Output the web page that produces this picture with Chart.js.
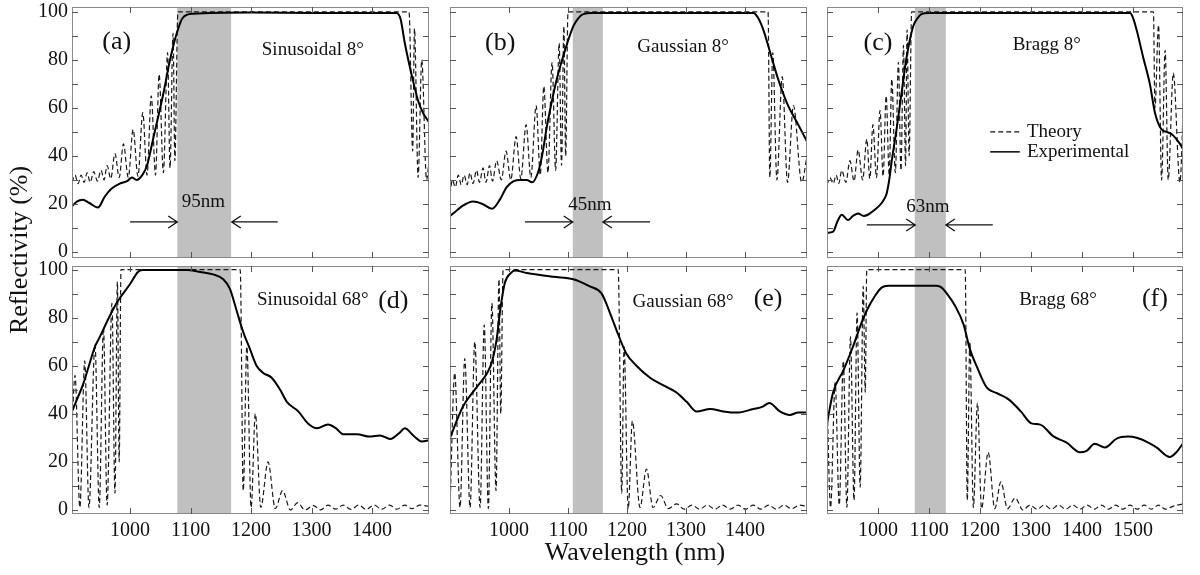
<!DOCTYPE html>
<html>
<head>
<meta charset="utf-8">
<script src="https://cdn.jsdelivr.net/npm/chart.js@4.4.1/dist/chart.umd.min.js"></script>
<style>
html,body{margin:0;padding:0;background:#ffffff;overflow:hidden;}
#wrap{position:relative;width:1200px;height:575px;overflow:hidden;background:#fff;}
#wrap canvas{position:absolute;left:-50px;top:-50px;}
</style>
</head>
<body>
<div id="wrap"></div>
<script>
// ---------- tick labels ----------
const xTicksCol12 = [1000, 1100, 1200, 1300, 1400];
const xTicksCol3 = [1000, 1100, 1200, 1300, 1400, 1500];
const yTickLabels = [0, 20, 40, 60, 80, 100];
const yTickMarks = [0, 10, 20, 30, 40, 50, 60, 70, 80, 90, 100];

// ---------- shaded bands (nm) ----------
const bandSinusoidal = [1078, 1167];
const bandGaussian = [1108, 1159];
const bandBragg = [1072, 1133];

// ---------- (a) Sinusoidal 8° ----------
const theoryA = [[904,29],[909,32],[914,28.5],[919,32],[924,29],[929,33],[934,29],[940,33.5],[946,29.5],[952,34],[957,30],[962,36],[968,30.5],[975,41],[982,31],[989,45],[997,31],[1005,51],[1013,31.5],[1021,58],[1028,32],[1035,65],[1042,32],[1048,74],[1055,33],[1062,83],[1066,35],[1071,91],[1074,38],[1079,100],[1461,100],[1467,42],[1470,93],[1476,31],[1482,80],[1490,30],[1494,38]];
const expA = [[904,19],[912,21],[922,21.7],[932,20.5],[947,18.5],[958,23],[970,26.5],[983,28.5],[995,29.5],[1003,31],[1011,30],[1020,32],[1028,36],[1038,47],[1055,66],[1066,80],[1077,91],[1087,97.5],[1104,99.2],[1200,99.7],[1300,99.5],[1440,99.5],[1447,97],[1454,87],[1466,73],[1476,63],[1484,58],[1494,54]];

// ---------- (b) Gaussian 8° ----------
const theoryB = [[900,24],[904,30],[909,27],[914,32],[919,28],[924,32],[929,28],[934,33],[939,28.5],[945,34],[950,29],[956,35],[961,29],[967,36],[972,29.5],[979,38],[987,30],[995,42],[1003,30],[1012,48],[1020,30.5],[1029,53],[1037,31],[1046,61],[1053,32],[1059,69],[1066,33],[1073,79],[1079,34],[1085,87],[1089,36],[1093,94],[1096,40],[1100,100],[1439,100],[1442,31],[1447,83],[1454,30],[1463,73],[1472,29],[1482,61],[1496,29],[1505,40]];
const expB = [[900,15],[910,17],[920,19],[939,21],[955,20],[971,18],[985,22],[996,27],[1008,29.5],[1019,30],[1030,30],[1039,29],[1049,33],[1056,40],[1064,52],[1072,62],[1081,72],[1095,84],[1109,94],[1118,97.5],[1126,99],[1140,99.5],[1414,99.5],[1422,97.5],[1431,92.5],[1445,81],[1456,72],[1471,62],[1488,54],[1505,46]];

// ---------- (c) Bragg 8° ----------
const theoryC = [[900,28],[906,31],[912,28.5],[918,32],[923,28.5],[929,34],[937,29],[945,38],[953,29.5],[961,42.5],[970,30],[978,47],[984,30.5],[990,53],[997,31],[1004,59],[1010,31.5],[1016,65],[1022,32],[1027,72],[1034,33],[1040,79],[1045,34],[1050,86],[1054,36],[1057,92.5],[1061,40],[1066,100],[1540,100],[1543,60],[1550,94.5],[1556,30],[1563,84],[1569,30],[1579,74.5],[1592,29],[1599,63]];
const expC = [[900,8],[912,8.5],[921,13],[929,15.5],[941,13.3],[951,15],[961,16],[972,15],[980,15.5],[993,17.5],[1004,19.6],[1012,22],[1017,24.4],[1022,30],[1027,38],[1037,52],[1047,67.5],[1056,81],[1069,94],[1078,97.5],[1085,99],[1100,99.5],[1494,99.5],[1500,97.5],[1507,92.5],[1520,81],[1533,70],[1543,58],[1556,51],[1566,50],[1576,49],[1592,45],[1599,42.5]];

// ---------- (d) Sinusoidal 68° ----------
const theoryD = [[904,35],[909,56],[917,1],[925,62],[932,1],[942,69],[949,1],[956,76],[962,2],[970,86],[975,7],[979,95],[982,20],[985,100],[1182,100],[1187,8],[1193,68],[1200,1],[1207,40],[1216,1],[1228,20],[1240,0.5],[1252,8],[1265,0],[1277,3],[1289,0],[1303,1.8],[1315,0],[1327,2],[1340,0.3],[1352,2],[1365,0.2],[1378,2],[1390,0.2],[1403,2],[1416,0.3],[1429,2],[1441,0.3],[1454,2],[1466,0.5],[1479,2],[1494,1.5]];
const expD = [[904,41],[914,47],[922,52],[932,60],[942,68],[950,72],[967,81],[980,87],[1000,94],[1013,99],[1020,99.8],[1094,99.8],[1116,99],[1137,98],[1154,96],[1165,92],[1176,83],[1187,74],[1198,67],[1209,60],[1220,57],[1234,55],[1248,50],[1259,45],[1278,41],[1294,36],[1309,34],[1327,35.5],[1340,34],[1352,31.5],[1375,31.5],[1396,30.5],[1413,31],[1430,29.5],[1445,32],[1454,34],[1468,31],[1482,28.5],[1494,29]];

// ---------- (e) Gaussian 68° ----------
const theoryE = [[900,1],[908,57],[917,1],[925,63],[934,1],[942,70],[951,1],[958,77],[965,0.5],[971,86],[978,8],[983,96],[986,40],[990,100],[1185,100],[1191,7],[1195,68],[1202,0.5],[1209,37],[1222,1],[1233,17],[1244,1],[1257,6],[1270,0.5],[1284,2.5],[1297,0.3],[1310,2],[1323,0.3],[1336,2],[1349,0.3],[1362,2],[1375,0.3],[1388,2],[1401,0.3],[1414,2],[1427,0.3],[1440,2],[1453,0.3],[1466,2],[1479,0.5],[1492,2],[1505,1.5]];
const expE = [[900,30],[922,43],[945,51],[963,57],[971,61.5],[979,71],[985,83],[993,94.5],[1003,98.5],[1010,99.6],[1030,98.6],[1075,97],[1109,96],[1137,93],[1157,90],[1171,82],[1185,73],[1199,65],[1216,60],[1239,55],[1260,52],[1283,49],[1301,45],[1318,41],[1341,42],[1363,41],[1386,40.5],[1414,42],[1430,43],[1441,44.5],[1459,41],[1476,39.5],[1490,40.5],[1505,40.5]];

// ---------- (f) Bragg 68° ----------
const theoryF = [[900,47],[907,1],[916,53],[924,2],[932,62],[939,1],[946,72],[953,4],[959,82],[965,9.5],[971,93],[975,49],[978,100],[1171,100],[1175,4],[1180,70],[1187,1],[1195,44.5],[1203,0.5],[1216,24],[1229,0.5],[1241,11.7],[1254,0.5],[1269,5],[1284,0],[1298,2],[1312,0.3],[1326,2],[1340,0.3],[1354,2],[1368,0.3],[1382,2],[1396,0.3],[1410,2],[1424,0.3],[1438,2],[1452,0.3],[1466,2],[1480,0.3],[1494,2],[1508,0.3],[1522,2],[1536,0.3],[1550,2],[1564,0.3],[1578,1.5],[1599,2.5]];
const expF = [[900,36],[912,49],[932,58],[951,68],[968,78],[978,83],[994,89],[1007,92.5],[1020,93.3],[1115,93.3],[1125,92.5],[1135,90],[1151,85],[1168,77],[1180,67],[1193,60],[1213,51],[1233,48.6],[1256,46],[1280,41],[1301,36],[1318,35.5],[1344,30.6],[1370,28],[1396,24],[1409,24.6],[1425,27.5],[1445,26],[1468,29.7],[1490,30.5],[1507,30],[1530,28],[1546,26],[1572,22],[1585,24],[1599,28]];

// ---------- layout ----------
const OFF = 50;            // canvas offset (canvas drawn at -50,-50)
const CW = 1300, CH = 675; // canvas size
const YW = 60, XH = 40;    // fixed axis box sizes
const FONT = '"Liberation Serif", "Times New Roman", serif';
const INK = '#111111';
const FRAME = '#8a8a8a';
const BAND = '#c0c0c0';

const panels = [
  {id:'a', theory:theoryA, exp:expA, band:bandSinusoidal, xr:[904,1494], yr:[-2.5,102], rect:[72,7,429,258], xt:xTicksCol12, showX:false, showY:true,
   texts:[['(a)',978,87.5,26],['Sinusoidal 8°',1302,84,19],['95nm',1121,21,19]], arrows:[[1000,1078,12.5],[1244,1168,12.5]]},
  {id:'b', theory:theoryB, exp:expB, band:bandGaussian, xr:[900,1505], yr:[-2.5,102], rect:[450,7,807,258], xt:xTicksCol12, showX:false, showY:false,
   texts:[['(b)',985,87,26],['Gaussian 8°',1295,85.5,19],['45nm',1137,19.6,19]], arrows:[[1027,1108,12.5],[1239,1159,12.5]]},
  {id:'c', theory:theoryC, exp:expC, band:bandBragg, xr:[900,1598], yr:[-2.5,102], rect:[827,7,1183,258], xt:xTicksCol3, showX:false, showY:false,
   texts:[['(c)',1000,87,26],['Bragg 8°',1331,86,19],['63nm',1098,18.75,19]], arrows:[[978,1073,11.25],[1225,1133,11.25]], legend:true},
  {id:'d', theory:theoryD, exp:expD, band:bandSinusoidal, xr:[904,1494], yr:[-1.7,101.5], rect:[72,266,429,514], xt:xTicksCol12, showX:true, showY:true,
   texts:[['Sinusoidal 68°',1302,87.5,19],['(d)',1435,86.7,26]], arrows:[], yTitle:true},
  {id:'e', theory:theoryE, exp:expE, band:bandGaussian, xr:[900,1505], yr:[-1.7,101.5], rect:[450,266,807,514], xt:xTicksCol12, showX:true, showY:false,
   texts:[['Gaussian 68°',1295,86.7,19],['(e)',1439,87.5,26]], arrows:[], xTitle:true},
  {id:'f', theory:theoryF, exp:expF, band:bandBragg, xr:[900,1598], yr:[-1.7,101.5], rect:[827,266,1183,514], xt:xTicksCol3, showX:true, showY:false,
   texts:[['Bragg 68°',1353,87.5,19],['(f)',1543,87.5,26]], arrows:[]}
];

function panelPlugin(p) {
  return {
    id: 'panel_' + p.id,
    beforeDatasetsDraw(chart) {
      const {ctx, chartArea: a, scales: {x}} = chart;
      const x0 = x.getPixelForValue(p.band[0]);
      const x1 = x.getPixelForValue(p.band[1]);
      ctx.save();
      ctx.fillStyle = BAND;
      ctx.fillRect(x0, a.top, x1 - x0, a.bottom - a.top);
      ctx.restore();
    },
    afterDatasetsDraw(chart) {
      const {ctx, chartArea: a, scales: {x, y}} = chart;
      ctx.save();
      // frame
      ctx.strokeStyle = FRAME;
      ctx.lineWidth = 1;
      ctx.strokeRect(a.left + 0.5, a.top + 0.5, a.right - a.left - 1, a.bottom - a.top - 1);
      // inward tick marks
      ctx.strokeStyle = '#555';
      ctx.beginPath();
      yTickMarks.forEach(v => {
        const py = Math.round(y.getPixelForValue(v)) + 0.5;
        ctx.moveTo(a.left, py); ctx.lineTo(a.left + 6, py);
        ctx.moveTo(a.right, py); ctx.lineTo(a.right - 6, py);
      });
      p.xt.forEach(v => {
        const px = Math.round(x.getPixelForValue(v)) + 0.5;
        ctx.moveTo(px, a.bottom); ctx.lineTo(px, a.bottom - 6);
        ctx.moveTo(px, a.top); ctx.lineTo(px, a.top + 6);
      });
      ctx.stroke();
      // texts
      ctx.fillStyle = INK;
      ctx.textAlign = 'center';
      ctx.textBaseline = 'middle';
      p.texts.forEach(([t, tx, ty, sz]) => {
        ctx.font = sz + 'px ' + FONT;
        ctx.fillText(t, x.getPixelForValue(tx), y.getPixelForValue(ty));
      });
      // arrows
      ctx.strokeStyle = INK;
      ctx.lineWidth = 1.3;
      p.arrows.forEach(([from, to, ay]) => {
        const x1 = x.getPixelForValue(from), x2 = x.getPixelForValue(to), py = y.getPixelForValue(ay);
        const d = x2 > x1 ? 1 : -1;
        ctx.beginPath();
        ctx.moveTo(x1, py); ctx.lineTo(x2, py);
        ctx.moveTo(x2 - d * 9, py - 6); ctx.lineTo(x2, py); ctx.lineTo(x2 - d * 9, py + 6);
        ctx.stroke();
      });
      // legend
      if (p.legend) {
        const lx0 = x.getPixelForValue(1220), lx1 = x.getPixelForValue(1278), tx = x.getPixelForValue(1292);
        const ly1 = y.getPixelForValue(50), ly2 = y.getPixelForValue(41.7);
        ctx.lineWidth = 1.2;
        ctx.setLineDash([5, 3]);
        ctx.beginPath(); ctx.moveTo(lx0, ly1); ctx.lineTo(lx1, ly1); ctx.stroke();
        ctx.setLineDash([]);
        ctx.lineWidth = 1.6;
        ctx.beginPath(); ctx.moveTo(lx0, ly2); ctx.lineTo(lx1, ly2); ctx.stroke();
        ctx.textAlign = 'left';
        ctx.font = '19px ' + FONT;
        ctx.fillText('Theory', tx, ly1);
        ctx.fillText('Experimental', tx, ly2);
      }
      // shared axis titles
      if (p.yTitle) {
        ctx.save();
        ctx.translate(20 + OFF, 250 + OFF);
        ctx.rotate(-Math.PI / 2);
        ctx.textAlign = 'center';
        ctx.textBaseline = 'middle';
        ctx.font = '26px ' + FONT;
        ctx.fillText('Reflectivity (%)', 0, 0);
        ctx.restore();
      }
      if (p.xTitle) {
        ctx.textAlign = 'center';
        ctx.textBaseline = 'middle';
        ctx.font = '26px ' + FONT;
        ctx.fillText('Wavelength (nm)', 635 + OFF, 553 + OFF);
      }
      ctx.restore();
    }
  };
}

const wrap = document.getElementById('wrap');
panels.forEach(p => {
  const cv = document.createElement('canvas');
  cv.width = CW; cv.height = CH;
  cv.style.width = CW + 'px'; cv.style.height = CH + 'px';
  wrap.appendChild(cv);
  const [L, T, R, B] = p.rect;
  new Chart(cv.getContext('2d'), {
    type: 'line',
    data: {
      datasets: [
        {label: 'Theory', data: p.theory.map(([vx, vy]) => ({x: vx, y: vy})), borderColor: '#1a1a1a', borderWidth: 1.2,
         borderDash: [5, 3], pointRadius: 0, cubicInterpolationMode: 'monotone', fill: false, order: 1},
        {label: 'Experimental', data: p.exp.map(([vx, vy]) => ({x: vx, y: vy})), borderColor: '#000000', borderWidth: 2,
         pointRadius: 0, cubicInterpolationMode: 'monotone', fill: false, order: 0}
      ]
    },
    options: {
      responsive: false, animation: false, events: [], devicePixelRatio: 1,
      layout: {padding: {left: L + OFF - YW, top: T + OFF, right: CW - (R + OFF), bottom: CH - (B + OFF) - XH}},
      plugins: {legend: {display: false}, tooltip: {enabled: false}},
      scales: {
        x: {
          type: 'linear', min: p.xr[0], max: p.xr[1],
          grid: {display: false, drawTicks: false}, border: {display: false},
          afterBuildTicks: s => { s.ticks = p.xt.map(v => ({value: v})); },
          afterFit: s => { s.height = XH; },
          ticks: {display: p.showX, font: {family: FONT, size: 20}, color: INK, padding: 5, maxRotation: 0, autoSkip: false,
                  callback: v => String(v)}
        },
        y: {
          type: 'linear', min: p.yr[0], max: p.yr[1],
          grid: {display: false, drawTicks: false}, border: {display: false},
          afterBuildTicks: s => { s.ticks = yTickLabels.map(v => ({value: v})); },
          afterFit: s => { s.width = YW; },
          ticks: {display: p.showY, font: {family: FONT, size: 20}, color: INK, padding: 4, autoSkip: false,
                  callback: v => String(v)}
        }
      }
    },
    plugins: [panelPlugin(p)]
  });
});
</script>
</body>
</html>
